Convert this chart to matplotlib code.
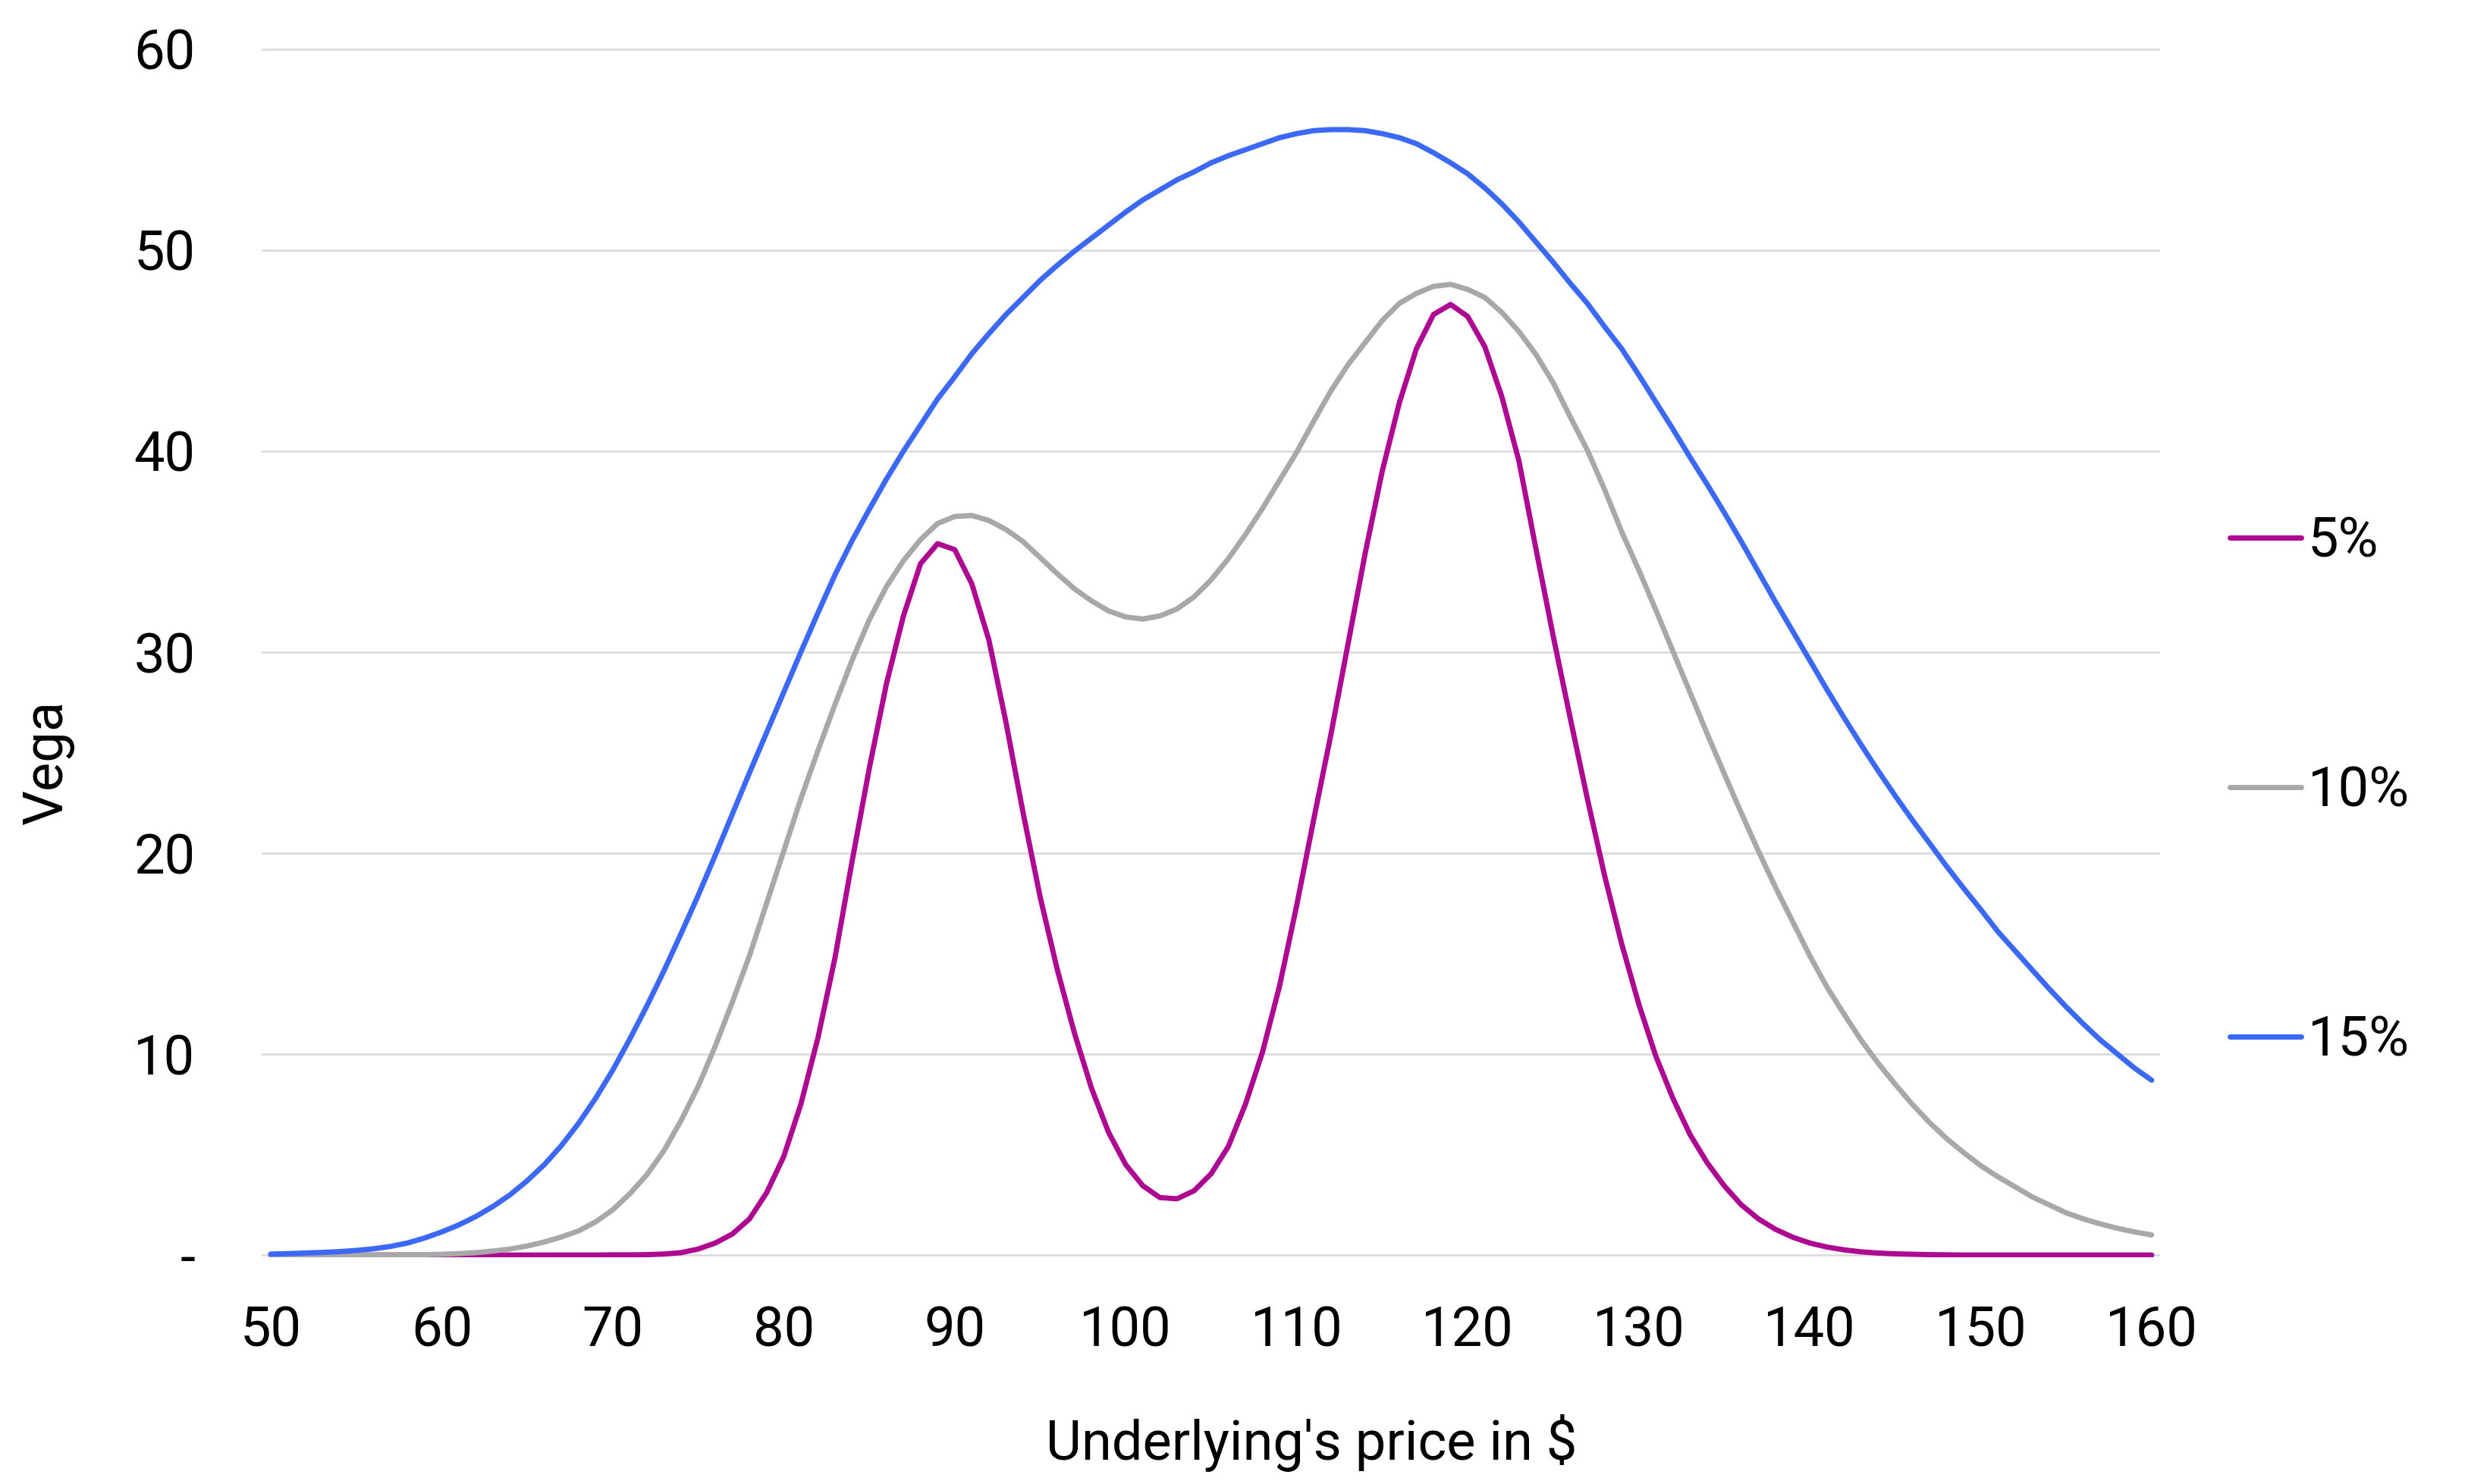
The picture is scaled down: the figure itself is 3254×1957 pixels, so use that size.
import matplotlib
matplotlib.use("Agg")
import matplotlib.pyplot as plt
from matplotlib.ticker import FuncFormatter

plt.rcParams['font.family'] = ['Roboto', 'DejaVu Sans']

# underlying price (x axis)
prices = list(range(50, 161))

# vega, one value per $1
vega_5 = [
    0, 0, 0, 0, 0, 0, 0, 0, 0, 0,
    0, 0, 0, 0, 0, 0, 0, 0, 0, 0,
    0.01, 0.01, 0.02, 0.05, 0.12, 0.3, 0.6, 1.05, 1.8, 3.1,
    4.9, 7.5, 10.8, 14.8, 19.6, 24.2, 28.4, 31.8, 34.4, 35.4,
    35.1, 33.4, 30.6, 26.5, 22.0, 17.8, 14.2, 11.05, 8.3, 6.1,
    4.5, 3.45, 2.86, 2.8, 3.2, 4.05, 5.4, 7.5, 10.1, 13.4,
    17.4, 21.7, 25.9, 30.4, 34.9, 39.0, 42.4, 45.1, 46.8, 47.3,
    46.7, 45.2, 42.7, 39.5, 35.1, 30.8, 26.7, 22.7, 18.9, 15.5,
    12.5, 9.9, 7.8, 6.0, 4.6, 3.45, 2.5, 1.8, 1.28, 0.89,
    0.6, 0.4, 0.26, 0.16, 0.1, 0.06, 0.04, 0.02, 0.01, 0,
    0, 0, 0, 0, 0, 0, 0, 0, 0, 0,
    0,
]

vega_10 = [
    0, 0, 0, 0, 0, 0, 0, 0, 0.01, 0.02,
    0.04, 0.07, 0.12, 0.2, 0.3, 0.45, 0.65, 0.9, 1.2, 1.65,
    2.25, 3.05, 4.0, 5.2, 6.7, 8.4, 10.4, 12.6, 14.9, 17.5,
    20.1, 22.7, 25.1, 27.4, 29.6, 31.6, 33.25, 34.55, 35.6, 36.4,
    36.75, 36.8, 36.55, 36.1, 35.5, 34.7, 33.9, 33.15, 32.55, 32.05,
    31.75, 31.65, 31.8, 32.15, 32.75, 33.6, 34.65, 35.85, 37.15, 38.55,
    39.95, 41.5, 43.0, 44.3, 45.4, 46.5, 47.35, 47.85, 48.2, 48.3,
    48.05, 47.65, 46.9, 45.95, 44.8, 43.4, 41.7, 40.05, 38.1, 36.0,
    34.1, 32.1, 30.05, 28.0, 25.95, 23.95, 22.0, 20.1, 18.3, 16.6,
    14.9, 13.35, 12.0, 10.7, 9.55, 8.5, 7.5, 6.6, 5.8, 5.1,
    4.45, 3.9, 3.4, 2.9, 2.5, 2.1, 1.8, 1.55, 1.33, 1.15,
    1.0,
]

vega_15 = [
    0.05, 0.07, 0.1, 0.13, 0.17, 0.23, 0.31, 0.43, 0.6, 0.85,
    1.15, 1.5, 1.92, 2.42, 3.0, 3.7, 4.5, 5.45, 6.55, 7.8,
    9.2, 10.75, 12.4, 14.15, 16.0, 17.9, 19.9, 21.95, 24.0, 26.0,
    28.0, 30.0, 31.95, 33.85, 35.55, 37.1, 38.6, 40.0, 41.3, 42.6,
    43.7, 44.85, 45.85, 46.8, 47.65, 48.5, 49.25, 49.95, 50.6, 51.25,
    51.9, 52.5, 53.0, 53.5, 53.9, 54.35, 54.7, 55.0, 55.3, 55.6,
    55.8, 55.95, 56.0, 56.0, 55.95, 55.8, 55.6, 55.3, 54.85, 54.35,
    53.8, 53.1, 52.3, 51.4, 50.4, 49.4, 48.35, 47.35, 46.2, 45.1,
    43.8, 42.45, 41.1, 39.7, 38.35, 36.95, 35.5, 34.0, 32.5, 31.05,
    29.6, 28.15, 26.75, 25.4, 24.1, 22.85, 21.65, 20.5, 19.35, 18.25,
    17.2, 16.1, 15.15, 14.2, 13.25, 12.35, 11.5, 10.7, 10.0, 9.3,
    8.7,
]

series_names = ['5%', '10%', '15%']
series_colors = ['#ad0a91', '#a8a8a8', '#3b68f5']
x_ticks = [50, 60, 70, 80, 90, 100, 110, 120, 130, 140, 150, 160]
y_ticks = [0, 10, 20, 30, 40, 50, 60]

W, H = 3254, 1957
fig = plt.figure(figsize=(W / 100, H / 100), dpi=100)
# axes placed in pixel terms: x 345..2848, y 62..1658
ax = fig.add_axes([345 / W, 1 - 1658 / H, (2848 - 345) / W, (1658 - 62) / H])

for vals, name, col in zip([vega_5, vega_10, vega_15], series_names, series_colors):
    ax.plot(prices, vals, color=col, lw=5, label=name,
            solid_joinstyle='round', solid_capstyle='round')

ax.set_xlim(49.47, 160.49)
ax.set_ylim(-0.11, 60.11)
ax.set_xticks(x_ticks)
ax.set_yticks(y_ticks)
ax.yaxis.set_major_formatter(FuncFormatter(lambda v, p: '-' if v == 0 else f'{v:.0f}'))
ax.grid(axis='y', color='#d9d9d9', lw=1.8)
ax.set_axisbelow(True)
for s in ax.spines.values():
    s.set_visible(False)
ax.tick_params(axis='both', length=0, labelsize=52, colors='#000000')
ax.tick_params(axis='x', pad=46)
ax.tick_params(axis='y', pad=63)

fig.text(1729 / W, 1 - 1925 / H, "Underlying's price in $", fontsize=52,
         ha='center', va='baseline')
fig.text(82 / W, 1 - 1005 / H, 'Vega', fontsize=52, rotation=90,
         rotation_mode='anchor', ha='center', va='baseline')

fig.legend(loc='center left', bbox_to_anchor=(2940 / W, 1 - 1044 / H),
           frameon=False, fontsize=52, handlelength=1.3, handletextpad=0.12,
           labelspacing=3.6, borderpad=0, borderaxespad=0)

fig.savefig('out.png', dpi=100)
